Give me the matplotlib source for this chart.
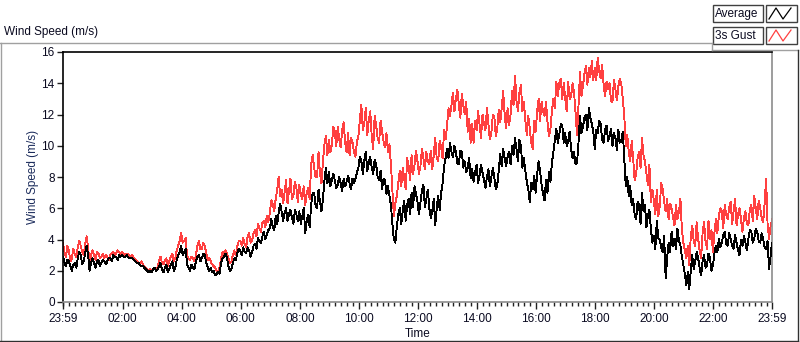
import numpy as np
import matplotlib
matplotlib.use("Agg")
import matplotlib.pyplot as plt
from matplotlib.lines import Line2D
from matplotlib.patches import Rectangle

plt.rcParams['font.family'] = ['Liberation Sans', 'DejaVu Sans']

# ---- data: minutes since 23:59; readings on the 6-minute grid (t = 0, 6, 12, ...)
# and readings in between (t = 3, 9, 15, ...) ----
gust_a = [
    3.8, 2.9, 3.3, 2.8, 3.0, 3.5, 3.6, 3.0, 4.2, 2.4,
    3.3, 2.7, 3.1, 2.9, 2.8, 2.9, 3.0, 3.2, 3.1, 3.2,
    3.2, 3.0, 3.1, 2.9, 2.8, 2.6, 2.5, 2.4, 2.2, 2.0,
    1.9, 2.2, 2.2, 2.9, 2.4, 2.8, 2.6, 3.1, 2.8, 3.6,
    4.4, 3.9, 3.0, 2.7, 2.8, 3.0, 3.9, 3.4, 3.6, 2.7,
    2.6, 2.3, 2.0, 2.2, 3.2, 3.3, 2.8, 2.6, 3.3, 3.6,
    3.9, 4.1, 3.5, 4.4, 3.9, 4.6, 5.0, 4.5, 5.2, 5.5,
    5.7, 6.3, 6.6, 8.0, 7.2, 7.0, 6.3, 7.9, 6.8, 7.3,
    7.5, 6.6, 6.2, 7.3, 8.8, 8.6, 8.0, 8.2, 9.0, 10.6,
    10.4, 10.0, 10.9, 11.2, 9.9, 11.5, 9.6, 9.4, 10.2, 9.3,
    10.6, 12.6, 11.5, 10.7, 12.2, 9.8, 11.3, 10.2, 10.9, 9.9,
    9.6, 8.8, 5.5, 6.8, 8.4, 8.6, 7.2, 8.7, 9.4, 8.8,
    9.0, 8.7, 9.2, 9.6, 8.8, 8.5, 10.5, 9.0, 9.9, 11.0,
    11.3, 11.9, 13.4, 13.0, 12.6, 13.3, 12.0, 10.9, 10.2, 10.2,
    11.0, 11.4, 12.0, 11.0, 11.4, 10.8, 11.9, 11.1, 11.5, 13.5,
    11.1, 11.3, 13.5, 14.5, 12.2, 13.9, 12.8, 10.7, 11.1, 9.8,
    10.9, 13.0, 12.8, 11.9, 11.5, 11.1, 13.0, 14.1, 14.0, 13.0,
    13.0, 14.1, 13.2, 13.4, 10.7, 14.7, 13.8, 15.1, 15.0, 15.4,
    15.0, 15.6, 14.3, 13.9, 14.1, 14.0, 12.8, 13.6, 13.8, 13.9,
    11.9, 10.7, 9.0, 9.2, 8.2, 9.6, 10.5, 9.0, 7.5, 6.4,
    6.5, 7.2, 6.1, 7.25, 5.8, 5.3, 6.0, 4.9, 5.3, 6.6,
    3.8, 2.8, 2.35, 4.9, 3.6, 4.05, 2.8, 5.1, 3.4, 4.05,
    3.2, 5.3, 5.5, 5.8, 6.2, 5.3, 6.4, 5.8, 4.9, 6.0,
    4.5, 5.8, 4.9, 6.2, 6.8, 5.3, 6.0, 5.1, 7.9, 4.05, 5.3,
]
gust_b = [
    3.2, 3.6, 2.6, 3.4, 2.9, 3.9, 3.2, 3.7, 3.5, 3.0,
    3.0, 3.2, 2.8, 3.1, 3.0, 2.7, 3.1, 2.9, 3.3, 3.0,
    3.1, 3.1, 2.9, 3.0, 2.7, 2.5, 2.6, 2.3, 2.1, 2.1,
    2.1, 2.1, 2.6, 2.5, 2.7, 2.3, 2.9, 2.6, 3.3, 3.9,
    3.8, 4.1, 2.8, 2.9, 2.6, 3.6, 3.4, 3.8, 3.1, 2.8,
    2.4, 2.2, 1.9, 2.8, 3.0, 3.1, 2.5, 3.0, 3.0, 3.9,
    3.6, 3.7, 4.2, 3.8, 4.4, 4.2, 4.7, 5.1, 4.8, 5.1,
    6.5, 5.8, 7.2, 6.8, 6.3, 7.8, 7.1, 6.6, 7.7, 6.4,
    6.9, 7.4, 7.0, 6.6, 9.4, 8.0, 9.6, 7.6, 10.1, 9.4,
    9.6, 11.2, 10.0, 10.4, 11.0, 10.2, 10.8, 10.5, 9.6, 10.3,
    11.7, 11.0, 12.4, 11.6, 10.6, 11.9, 10.5, 11.6, 10.3, 10.8,
    10.1, 7.2, 6.3, 7.6, 7.4, 7.9, 9.2, 7.8, 8.2, 9.7,
    8.2, 9.8, 8.5, 9.0, 9.7, 9.4, 9.2, 10.3, 9.2, 10.4,
    12.4, 12.6, 12.2, 13.6, 11.8, 12.6, 12.8, 11.7, 11.4, 11.6,
    12.2, 10.5, 11.4, 12.4, 10.4, 12.0, 10.6, 12.3, 12.4, 12.0,
    12.4, 12.0, 12.6, 12.9, 13.4, 12.2, 11.6, 11.9, 10.2, 11.6,
    12.2, 11.6, 12.2, 12.8, 10.6, 12.2, 12.4, 13.2, 14.3, 14.0,
    12.2, 13.0, 14.0, 12.1, 12.6, 13.2, 14.6, 13.9, 14.4, 14.2,
    14.2, 14.8, 15.2, 13.2, 13.6, 12.9, 14.2, 12.9, 14.3, 13.0,
    10.0, 9.6, 10.3, 7.8, 9.2, 8.6, 9.4, 8.2, 8.8, 7.2,
    5.6, 5.5, 7.6, 6.4, 6.6, 6.3, 5.4, 6.2, 5.8, 4.6,
    3.3, 3.6, 4.2, 3.9, 5.1, 3.3, 4.4, 3.9, 5.2, 4.6,
    4.4, 4.4, 6.0, 4.7, 5.6, 6.0, 5.0, 6.6, 5.6, 5.3,
    5.4, 5.0, 5.9, 5.2, 6.0, 6.5, 5.4, 6.3, 5.0, 4.8,
]
avg_a = [
    2.9, 2.3, 2.6, 2.0, 2.5, 2.8, 3.0, 2.6, 3.6, 2.0,
    2.8, 2.2, 2.7, 2.5, 2.6, 2.6, 2.8, 3.0, 2.9, 3.0,
    3.0, 2.9, 2.9, 2.8, 2.7, 2.5, 2.4, 2.3, 2.1, 1.9,
    1.9, 2.2, 2.1, 2.5, 1.9, 2.4, 2.1, 2.6, 2.2, 3.0,
    3.6, 3.2, 2.4, 2.0, 2.2, 2.6, 3.0, 2.8, 3.0, 2.2,
    2.2, 2.0, 1.8, 1.8, 2.8, 3.1, 2.3, 2.1, 2.8, 3.1,
    3.3, 3.5, 3.1, 3.3, 3.2, 3.7, 4.1, 3.8, 4.5, 4.3,
    4.7, 4.8, 5.5, 5.7, 5.8, 5.7, 5.2, 5.9, 5.0, 5.6,
    5.8, 5.5, 4.4, 5.6, 6.2, 7.0, 6.0, 6.4, 6.6, 8.6,
    8.3, 7.8, 7.8, 7.5, 7.6, 7.9, 7.7, 7.6, 7.9, 7.9,
    8.6, 9.0, 9.1, 8.4, 9.3, 8.2, 8.8, 7.8, 7.2, 7.8,
    7.4, 6.2, 4.0, 4.8, 6.0, 5.8, 5.2, 6.6, 7.0, 7.4,
    6.4, 6.4, 7.5, 6.6, 6.0, 5.8, 4.9, 6.8, 7.0, 8.7,
    9.8, 10.2, 9.3, 9.6, 8.8, 9.6, 9.0, 8.6, 7.9, 7.7,
    8.8, 8.1, 8.3, 7.3, 8.5, 8.0, 8.0, 7.5, 9.5, 9.8,
    8.7, 9.6, 10.0, 10.5, 9.0, 10.0, 9.2, 7.7, 6.4, 7.25,
    7.0, 9.0, 7.5, 6.5, 7.0, 7.7, 9.6, 11.1, 10.7, 11.3,
    10.8, 10.3, 9.8, 9.6, 8.9, 11.9, 11.2, 12.0, 12.4, 11.4,
    9.8, 10.8, 11.4, 10.2, 11.3, 10.6, 10.0, 10.5, 11.0, 10.3,
    9.2, 8.0, 7.4, 6.6, 5.3, 6.2, 7.0, 6.2, 5.5, 4.7,
    4.2, 5.2, 4.0, 3.2, 1.5, 3.8, 4.5, 4.05, 4.7, 3.6,
    2.35, 1.07, 0.85, 3.0, 2.6, 2.8, 1.7, 3.0, 2.35, 2.8,
    2.35, 3.6, 4.05, 3.8, 4.5, 3.6, 4.05, 3.4, 3.8, 3.0,
    3.6, 3.8, 4.05, 4.5, 4.05, 4.5, 3.8, 4.05, 3.4, 2.1, 3.8,
]
avg_b = [
    2.5, 2.7, 2.3, 2.4, 2.2, 3.2, 2.4, 3.1, 3.0, 2.5,
    2.5, 2.6, 2.3, 2.7, 2.4, 2.8, 2.6, 2.9, 2.7, 2.9,
    2.9, 3.0, 2.8, 2.8, 2.6, 2.5, 2.3, 2.2, 2.0, 2.0,
    2.1, 2.0, 2.3, 2.1, 2.2, 1.9, 2.4, 2.0, 2.7, 3.2,
    3.0, 3.4, 2.2, 2.4, 2.1, 2.9, 2.6, 3.1, 2.5, 2.0,
    1.9, 1.7, 1.9, 2.5, 2.9, 2.8, 2.0, 2.5, 2.7, 3.4,
    3.0, 3.2, 3.5, 2.9, 3.6, 3.4, 3.9, 4.2, 4.0, 4.6,
    5.3, 4.6, 5.0, 6.3, 5.2, 6.0, 5.6, 5.4, 5.9, 5.2,
    5.0, 6.0, 5.2, 4.8, 7.0, 6.2, 7.2, 5.8, 7.8, 7.6,
    7.4, 8.2, 7.3, 8.0, 7.1, 7.4, 8.1, 7.2, 7.6, 8.3,
    9.3, 8.2, 9.6, 8.9, 8.6, 9.1, 8.0, 8.4, 7.9, 6.9,
    6.8, 5.0, 3.8, 5.6, 5.0, 6.5, 6.2, 5.6, 6.1, 6.9,
    5.6, 7.1, 6.1, 7.2, 5.4, 6.6, 6.0, 5.9, 7.6, 9.2,
    9.2, 9.6, 10.0, 8.9, 9.7, 8.6, 8.3, 9.2, 8.5, 8.3,
    7.6, 8.8, 7.8, 8.0, 7.4, 8.6, 7.2, 8.4, 8.7, 9.2,
    9.3, 8.8, 9.4, 9.8, 10.4, 8.6, 8.4, 7.2, 7.6, 8.1,
    8.2, 8.4, 6.9, 7.8, 8.3, 8.9, 10.4, 10.2, 11.4, 10.2,
    10.0, 10.9, 9.2, 8.8, 10.2, 10.8, 11.8, 11.0, 11.8, 10.9,
    11.0, 11.6, 10.4, 11.0, 10.3, 11.1, 10.8, 9.7, 10.2, 10.9,
    7.4, 6.8, 6.2, 5.6, 6.4, 5.0, 5.8, 4.8, 5.9, 3.8,
    3.4, 4.1, 3.5, 4.2, 2.8, 3.2, 3.6, 3.4, 3.9, 2.9,
    1.8, 1.9, 2.0, 2.1, 3.2, 2.2, 2.6, 2.2, 3.1, 2.0,
    3.1, 3.2, 3.5, 4.3, 3.7, 4.4, 3.6, 4.3, 3.3, 4.0,
    4.2, 3.3, 4.6, 3.8, 4.7, 3.9, 4.4, 3.5, 3.9, 2.9,
]
tick_minutes = [0, 121, 241, 361, 481, 601, 721, 841, 961, 1081, 1201, 1321, 1440]
tick_labels = ["23:59", "02:00", "04:00", "06:00", "08:00", "10:00", "12:00",
               "14:00", "16:00", "18:00", "20:00", "22:00", "23:59"]
y_ticks = [0, 2, 4, 6, 8, 10, 12, 14, 16]


def merge(on_grid, between):
    t_a = np.arange(len(on_grid)) * 6
    t_b = np.arange(len(between)) * 6 + 3
    t = np.concatenate([t_a, t_b])
    v = np.concatenate([on_grid, between])
    order = np.argsort(t)
    return t[order], v[order]


t_g, gust = merge(gust_a, gust_b)
t_v, average = merge(avg_a, avg_b)

W, H = 800, 342
fig = plt.figure(figsize=(W / 100, H / 100), dpi=100)
fig.patch.set_facecolor('white')


def fx(px):
    return px / W


def fy(py):
    return 1 - py / H


ax_l, ax_r, ax_t, ax_b = 63, 772, 52, 302
ax = fig.add_axes([fx(ax_l), fy(ax_b), fx(ax_r) - fx(ax_l), fy(ax_t) - fy(ax_b)])

red = '#ff4040'
ax.plot(t_g, gust, color=red, lw=0.65, zorder=2, antialiased=False)
ax.plot(t_v, average, color='black', lw=0.65, zorder=3, antialiased=False)

ax.set_xlim(0, 1440)
ax.set_ylim(0, 16)

ax.set_xticks(tick_minutes)
ax.set_xticklabels(tick_labels)
minor = [m for m in range(1, 1440, 12) if m not in tick_minutes]
ax.set_xticks(minor, minor=True)
ax.set_yticks(y_ticks)

txtc = '#0a0a20'
ax.tick_params(axis='x', which='major', length=5, width=1, color='#202020',
               labelsize=8.5, labelcolor=txtc, pad=3)
ax.tick_params(axis='x', which='minor', length=3, width=1, color='#202020')
ax.tick_params(axis='y', which='major', length=4, width=1, color='#202020',
               labelsize=8.5, labelcolor=txtc, pad=2)

for s in ['left', 'top']:
    ax.spines[s].set_color('black')
    ax.spines[s].set_linewidth(1.2)
for s in ['right', 'bottom']:
    ax.spines[s].set_color('#8c8c8c')
    ax.spines[s].set_linewidth(1.2)

ax.set_xlabel('Time', fontsize=8.5, color=txtc, labelpad=2)
ax.set_ylabel('Wind Speed (m/s)', fontsize=8.5, color='#1c2c5c', labelpad=1.5)

# chart title label
fig.text(fx(4), fy(32), 'Wind Speed (m/s)', fontsize=8.5, color=txtc,
         ha='left', va='center')


# panel frame
def fline(x0, y0, x1, y1, color, lw=1.0):
    fig.add_artist(Line2D([fx(x0), fx(x1)], [fy(y0), fy(y1)], color=color, lw=lw,
                          transform=fig.transFigure))


fline(0, 42.5, 712, 42.5, '#a0a0a0')
fline(0.5, 42.5, 0.5, 341, '#a0a0a0')
fline(712, 42.5, 712, 49.5, '#a0a0a0')
fline(712, 49.5, 798, 49.5, '#a0a0a0')
fline(797.5, 49.5, 797.5, 341, '#303030')
fline(0, 340.5, 798, 340.5, '#303030')


# legend
def legend_entry(y0, label, color):
    fig.add_artist(Rectangle((fx(713), fy(y0 + 17)), fx(50), 17 / H,
                             transform=fig.transFigure, facecolor='white',
                             edgecolor='#404040', lw=1.0))
    fig.text(fx(715), fy(y0 + 8.8), label, fontsize=8.5, color=txtc,
             ha='left', va='center')
    fig.add_artist(Rectangle((fx(766), fy(y0 + 17)), fx(31), 17 / H,
                             transform=fig.transFigure, facecolor='white',
                             edgecolor='#404040', lw=1.0))
    xs = [769, 776, 783, 791]
    ys = [y0 + 14, y0 + 3, y0 + 14, y0 + 3]
    fig.add_artist(Line2D([fx(v) for v in xs], [fy(v) for v in ys], color=color,
                          lw=0.9, transform=fig.transFigure))


legend_entry(5, 'Average', 'black')
legend_entry(27, '3s Gust', red)

fig.savefig('out.png', dpi=100, facecolor='white')
